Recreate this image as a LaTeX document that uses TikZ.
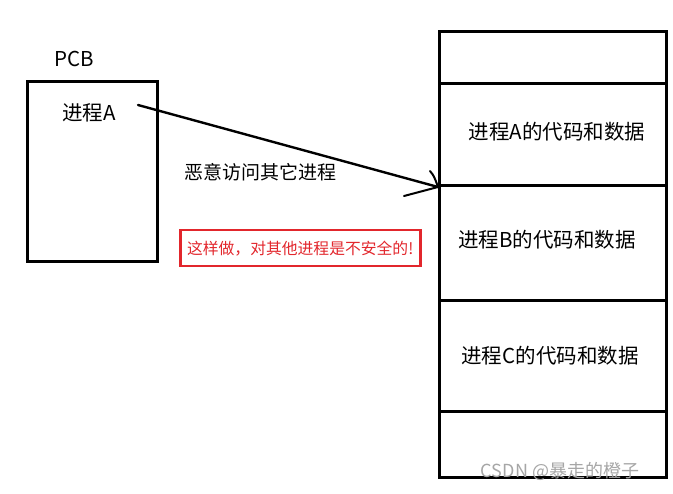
\documentclass[tikz,border=0pt]{standalone}
\usepackage{fontspec}
\setmainfont{Noto Sans CJK SC}
\definecolor{warnred}{RGB}{226,38,44}
\begin{document}
\begin{tikzpicture}[x=1pt,y=-1pt,
  box/.style={draw,line width=3pt,inner sep=0pt,anchor=north west},
  seg/.style={box,minimum width=227pt},
  lbl/.style={font=\fontsize{20.5}{22}\selectfont,inner sep=0pt},
  redbox/.style={draw=warnred,line width=2.5pt,inner sep=0pt,anchor=north west,minimum width=240pt,minimum height=36pt},
  link/.style={line width=2.4pt,line cap=round}]
\useasboundingbox (0,0) rectangle (673,494);
% PCB
\node[box,minimum width=130pt,minimum height=180pt] (pcb) at (26,80) {};
\node[lbl] (pcbt) at (74,59) {PCB};
\node[lbl] (pa) at (89,113) {进程A};
% memory column
\node[seg,minimum height=52pt] (s0) at (438,30) {};
\node[seg,minimum height=102pt] (sA) at (438,82) {};
\node[seg,minimum height=115pt] (sB) at (438,184) {};
\node[seg,minimum height=111pt] (sC) at (438,299) {};
\node[seg,minimum height=66pt] (s4) at (438,410) {};
\node[lbl] (tA) at (557,132) {进程A的代码和数据};
\node[lbl] (tB) at (547,240) {进程B的代码和数据};
\node[lbl] (tC) at (550,356) {进程C的代码和数据};
% arrow
\coordinate (st) at (138,105);
\coordinate (h1) at (430,171);
\coordinate (h2) at (404,196);
\draw[link] (st) -- (sA.south west);
\draw[link,line width=2pt] (h1) .. controls (434,176) .. (sA.south west) -- (h2);
\node[lbl,font=\fontsize{19}{21}\selectfont] (mal) at (260,172) {恶意访问其它进程};
% warning
\node[redbox] (warn) at (179,229) {};
\node[inner sep=0pt,text=warnred,font=\fontsize{15.8}{17}\selectfont] (wt) at (warn.center) {这样做，对其他进程是不安全的!};
% watermark
\node[inner sep=0pt,text=black!35,font=\fontsize{18}{20}\selectfont] (wm) at (560,471) {CSDN @暴走的橙子};
\end{tikzpicture}
\end{document}
